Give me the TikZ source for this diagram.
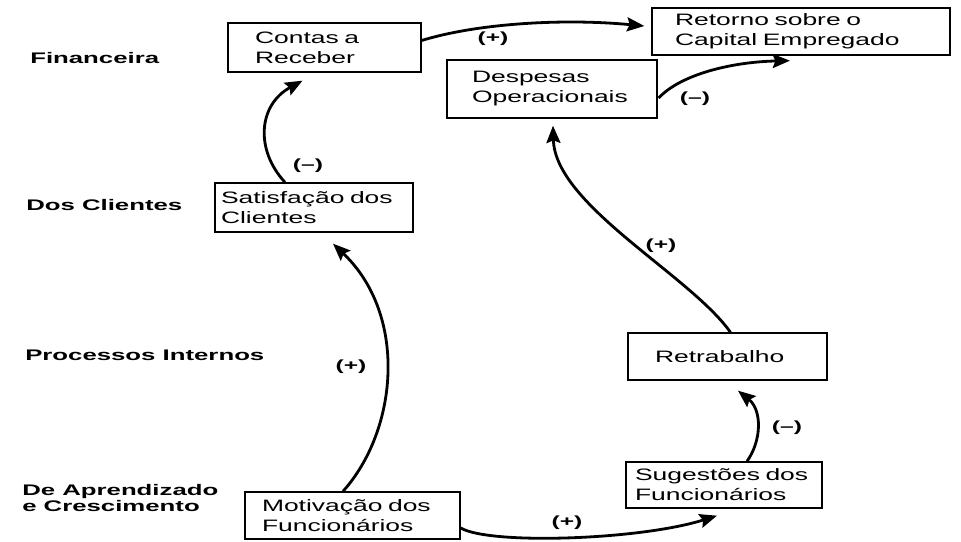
\documentclass[tikz,border=0pt]{standalone}
\usepackage{fontspec}
\setmainfont{Liberation Sans}[FakeStretch=1.6]
\newfontfamily\nivelfont{Liberation Sans}[FakeStretch=1.68]
\usepackage{tikz}
\usetikzlibrary{arrows.meta,calc}

\tikzset{
  bloco/.style={draw, line width=1pt, fill=white, align=left, inner ysep=0pt, font=\fontsize{12.4}{15}\selectfont},
  nivel/.style={anchor=west, align=left, inner sep=0.75pt, font=\nivelfont\bfseries\fontsize{11.5}{11.5}\selectfont},
  sinal/.style={inner sep=0.75pt, font=\nivelfont\bfseries\fontsize{11}{12}\selectfont},
  seta/.style={line width=2.1pt, -{Stealth[length=13pt,width=10.5pt,inset=2pt]}}
}

\begin{document}
\begin{tikzpicture}[x=0.75pt,y=0.75pt,yscale=-1,xscale=1]
\useasboundingbox (0,0) rectangle (961,542);

%Shape: Rectangle [Contas a Receber]
\draw (324.5,47.5) node [bloco, text width=104.25pt, inner xsep=20.25pt, minimum height=36.75pt] (crb) {Contas~a\\Receber};
%Shape: Rectangle [Retorno]
\draw (801,31.5) node [bloco, text width=189pt, inner xsep=17.25pt, minimum height=35.25pt] (rce) {Retorno~sobre~o\\Capital~Empregado};
%Shape: Rectangle [Despesas]
\draw (552,89) node [bloco, text width=120pt, inner xsep=18.75pt, minimum height=43.5pt] (dop) {Despesas\\Operacionais};
%Shape: Rectangle [Satisfacao]
\draw (314,207.5) node [bloco, text width=139.5pt, inner xsep=4.5pt, minimum height=36.75pt] (sdc) {Satisfação~dos\\Clientes};
%Shape: Rectangle [Retrabalho]
\draw (727.5,356.5) node [bloco, text width=108.75pt, inner xsep=20.25pt, minimum height=35.25pt] (ret) {Retrabalho};
%Shape: Rectangle [Sugestoes]
\draw (724,485) node [bloco, text width=133.5pt, inner xsep=6.75pt, minimum height=34.5pt] (sdf) {Sugestões~dos\\Funcionários};
%Shape: Rectangle [Motivacao]
\draw (352.5,515.5) node [bloco, text width=135.75pt, inner xsep=12.75pt, minimum height=35.25pt] (mdf) {Motivação~dos\\Funcionários};

%Curve Lines
\draw [seta] ($(crb.east)+(0,-7)$) .. controls (475,24) and (560,18) .. ($(rce.west)+(-7,-5.5)$);
%Curve Lines
\draw [seta] ($(dop.east)+(1,9)$) .. controls (680,75) and (730,62) .. ($(rce.south)+(-11,5)$);
%Curve Lines
\draw [seta] ($(sdc.north)+(-29,0)$) .. controls (255,150) and (258,105) .. ($(crb.south)+(-22,8)$);
%Curve Lines
\draw [seta] ($(mdf.north)+(-9.5,0)$) .. controls (398,430) and (408,315) .. ($(sdc.south)+(19,11)$);
%Curve Lines
\draw [seta] ($(mdf.east)+(0,12.5)$) .. controls (490,545) and (640,540) .. ($(sdf.south)+(-7,7)$);
%Curve Lines
\draw [seta] ($(sdf.north)+(23,0)$) .. controls (762,440) and (762,410) .. ($(ret.south)+(10.5,10)$);
%Curve Lines
\draw [seta] ($(ret.north)+(3,0)$) .. controls (690,275) and (555,205) .. ($(dop.south)+(1,7)$);

% Text Node
\draw (29,58) node [nivel] (nfin) {Financeira};
% Text Node
\draw (25,205) node [nivel] (ncli) {Dos Clientes};
% Text Node
\draw (24,355) node [nivel] (npro) {Processos Internos};
% Text Node
\draw (21,498) node [nivel] (napr) {De Aprendizado\\e Crescimento};

% Text Node
\draw (493,39) node [sinal] (sinal1) {(+)};
% Text Node
\draw (695,99) node [sinal] (sinal2) {(\textendash)};
% Text Node
\draw (308,166) node [sinal] (sinal3) {(\textendash)};
% Text Node
\draw (351,367) node [sinal] (sinal4) {(+)};
% Text Node
\draw (567,523) node [sinal] (sinal5) {(+)};
% Text Node
\draw (787,428) node [sinal] (sinal6) {(\textendash)};
% Text Node
\draw (661,246) node [sinal] (sinal7) {(+)};

\end{tikzpicture}
\end{document}
